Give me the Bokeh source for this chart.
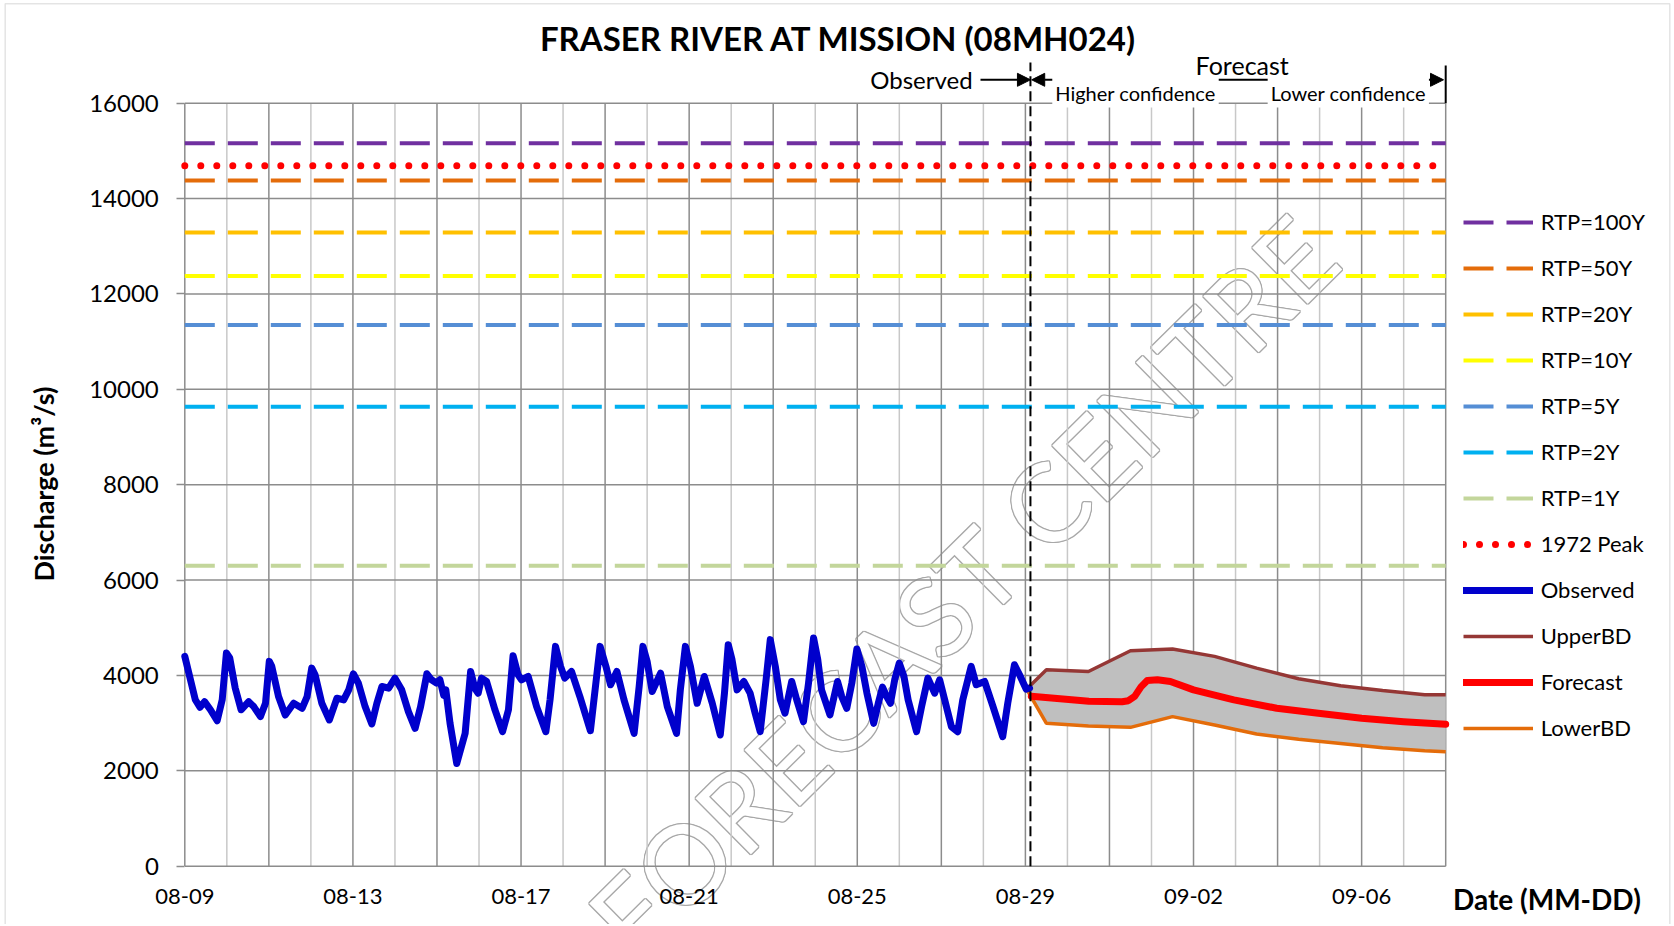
import numpy as np
from bokeh.plotting import figure
from bokeh.models import (Range1d, FixedTicker, LinearAxis, Legend, LegendItem, Label,
                          Arrow, NormalHead, BoxAnnotation, ColumnDataSource)
from bokeh.core.properties import value
from bokeh.embed import file_html
from bokeh.resources import INLINE

# ---------------- data ----------------
threshold_names = ["RTP=100Y", "RTP=50Y", "RTP=20Y", "RTP=10Y", "RTP=5Y", "RTP=2Y", "RTP=1Y"]
threshold_values = [15160, 14380, 13290, 12375, 11350, 9635, 6300]
peak_1972 = 14690

# days after 08-09 00:00
obs_day = [0.00, 0.25, 0.36, 0.47, 0.61, 0.77, 0.89, 0.99, 1.07, 1.20, 1.34, 1.52, 1.64, 1.80,
           1.92, 2.01, 2.07, 2.23, 2.39, 2.59, 2.79, 2.91, 3.02, 3.10, 3.26, 3.44, 3.62, 3.78,
           3.90, 4.01, 4.13, 4.29, 4.45, 4.57, 4.69, 4.85, 5.00, 5.16, 5.32, 5.48, 5.61, 5.76,
           5.87, 5.99, 6.07, 6.16, 6.21, 6.31, 6.47, 6.67, 6.80, 6.90, 6.98, 7.06, 7.18, 7.38,
           7.56, 7.70, 7.81, 7.93, 8.01, 8.17, 8.37, 8.59, 8.69, 8.82, 8.94, 9.04, 9.20, 9.40,
           9.65, 9.78, 9.88, 10.02, 10.13, 10.28, 10.45, 10.69, 10.81, 10.90, 11.00, 11.12,
           11.32, 11.48, 11.70, 11.79, 11.91, 12.03, 12.19, 12.36, 12.55, 12.74, 12.84, 12.93,
           13.02, 13.14, 13.30, 13.45, 13.57, 13.69, 13.83, 13.93, 14.05, 14.17, 14.28, 14.44,
           14.56, 14.72, 14.84, 14.96, 15.06, 15.15, 15.35, 15.53, 15.63, 15.75, 15.87, 15.99,
           16.11, 16.23, 16.39, 16.50, 16.60, 16.70, 16.79, 16.89, 17.00, 17.11, 17.21, 17.41,
           17.53, 17.68, 17.84, 17.96, 18.08, 18.24, 18.39, 18.51, 18.71, 18.83, 19.03, 19.23,
           19.46, 19.58, 19.74, 19.86, 20.02, 20.10]
obs_q = [4400, 3490, 3333, 3450, 3280, 3050, 3490, 4470, 4365, 3733, 3280, 3450, 3347, 3137,
         3417, 4295, 4190, 3558, 3170, 3417, 3312, 3558, 4154, 4014, 3417, 3067, 3523, 3488,
         3698, 4035, 3839, 3347, 2982, 3417, 3768, 3733, 3944, 3698, 3242, 2891, 3347, 4035,
         3909, 3839, 3909, 3580, 3700, 3000, 2154, 2786, 4084, 3733, 3628, 3944, 3874, 3277,
         2821, 3277, 4414, 4014, 3909, 3979, 3347, 2821, 3488, 4610, 4190, 3944, 4084, 3558,
         2840, 3839, 4610, 4190, 3804, 4084, 3488, 2786, 3768, 4610, 4295, 3663,
         4049, 3347, 2786, 3698, 4610, 4190, 3417, 3979, 3417, 2751, 3628, 4646,
         4330, 3698, 3874, 3628, 3207, 2821, 3909, 4751, 4190, 3488, 3207, 3874,
         3488, 3031, 3839, 4786, 4330, 3698, 3172, 3874, 3558, 3312, 3839, 4554,
         4190, 3628, 2996, 3417, 3754, 3558, 3417, 3909, 4260, 3979, 3488, 2821,
         3347, 3944, 3628, 3909, 3488, 2926, 2821, 3488, 4190, 3804, 3874, 3347,
         2716, 3417, 4225, 4014, 3712, 3733]

fc_day = [20.14, 21.51, 22.30, 22.45, 22.60, 22.75, 22.90, 23.14, 23.45, 24.00, 24.96, 25.98,
          26.97, 28.00, 29.00, 30.00]
fc_q = [3565, 3460, 3450, 3470, 3560, 3760, 3895, 3909, 3874, 3698, 3488, 3312,
        3207, 3102, 3031, 2975]

bd_day = [20.05, 20.50, 21.50, 22.50, 23.50, 24.50, 25.50, 26.50, 27.50, 28.50, 29.50, 30.00]
upper_q = [3733, 4119, 4084, 4519, 4554, 4400, 4154, 3930, 3782, 3684, 3593, 3593]
lower_q = [3684, 2996, 2940, 2912, 3137, 2961, 2772, 2660, 2575, 2484, 2421, 2400]

tick_days = [0, 4, 8, 12, 16, 20, 24, 28]
tick_labels = ["08-09", "08-13", "08-17", "08-21", "08-25", "08-29", "09-02", "09-06"]
y_ticks = [0, 2000, 4000, 6000, 8000, 10000, 12000, 14000, 16000]
n_days = 30
forecast_start = 20.12

# ---------------- layout ----------------
W, H = 1672, 924
OX, OY = 184.3, 865.7          # pixel position of (day 0, 0 m3/s)
KX = 42.03                     # px per day
KY = 763.0 / 16000             # px per m3/s


def dx(px):  # canvas x -> data x
    return (px - OX) / KX


def dy(py):  # canvas y -> data y
    return (OY - py) / KY


FONT = "Lato"
DARK = "#8C8C8C"
LIGHT = "#C8C8C8"

p = figure(width=W, height=H, x_range=Range1d(dx(0), dx(W)), y_range=Range1d(dy(H), dy(0)),
           output_backend="svg", toolbar_location=None, min_border=0,
           x_axis_location=None, y_axis_location=None)
p.outline_line_color = None
p.background_fill_color = "white"
p.border_fill_color = "white"
p.grid.visible = False

# axes fixed at the data origin
yax = LinearAxis(fixed_location=0, ticker=FixedTicker(ticks=y_ticks))
yax.major_tick_out = 8
yax.major_tick_in = 0
yax.major_tick_line_color = DARK
yax.major_tick_line_width = 1.5
yax.minor_tick_line_color = None
yax.axis_line_color = None
yax.major_label_standoff = 18
p.add_layout(yax, "left")

xax = LinearAxis(fixed_location=0, ticker=FixedTicker(ticks=tick_days))
xax.major_label_overrides = {d: l for d, l in zip(tick_days, tick_labels)}
xax.major_tick_line_color = None
xax.major_tick_out = 0
xax.major_tick_in = 0
xax.minor_tick_line_color = None
xax.axis_line_color = None
xax.major_label_standoff = 23
p.add_layout(xax, "below")
for ax, fs in ((xax, "22px"), (yax, "24px")):
    ax.major_label_text_font = FONT
    ax.major_label_text_font_size = fs
    ax.major_label_text_color = "black"

# watermark (outlined text, below grid)
wm_src = ColumnDataSource(dict(
    x=[dx(962)] * 9, y=[dy(584)] * 9,
    xo=[-1, 1, 0, 0, -1, -1, 1, 1, 0], yo=[0, 0, -1, 1, -1, 1, -1, 1, 0],
    c=["#A8A8A8"] * 8 + ["white"]))
p.text(x="x", y="y", x_offset="xo", y_offset="yo", text=value("FORECAST CENTRE"),
       text_color="c", angle=0.78, text_font=value(FONT), text_font_size=value("110px"),
       text_align="center", text_baseline="middle", source=wm_src, level="image")

# grid lines limited to the plot area
y_top = y_ticks[-1]
odd_days = list(range(1, n_days, 2))
even_days = list(range(0, n_days + 1, 2))
p.segment(x0=odd_days, y0=[0] * len(odd_days), x1=odd_days, y1=[y_top] * len(odd_days),
          line_color=LIGHT, line_width=1.5, level="underlay")
p.segment(x0=even_days, y0=[0] * len(even_days), x1=even_days, y1=[y_top] * len(even_days),
          line_color=DARK, line_width=1.5, level="underlay")
p.segment(x0=[0] * len(y_ticks), y0=y_ticks, x1=[n_days] * len(y_ticks), y1=y_ticks,
          line_color=DARK, line_width=1.5, level="underlay")

# thresholds
th_colors = ["#7030A0", "#E46C0A", "#FFC000", "#FFFF00", "#558ED5", "#00B0F0", "#C3D69B"]
items = []
th_renderers = []
for name, v, c in zip(threshold_names, threshold_values, th_colors):
    r = p.line([0, n_days], [v, v], line_color=c, line_width=4, line_dash="30 13")
    th_renderers.append((name, r))
r_peak = p.line([0, n_days], [peak_1972, peak_1972], line_color="#FF0000", line_width=7,
                line_dash="0 16", line_cap="round")

# forecast band and lines
p.varea(x=bd_day, y1=lower_q, y2=upper_q, fill_color="#BFBFBF")
r_up = p.line(bd_day, upper_q, line_color="#953735", line_width=3.5)
r_lo = p.line(bd_day, lower_q, line_color="#E46C0A", line_width=3.5)
r_obs = p.line(obs_day, obs_q, line_color="#0000CC", line_width=7, line_join="round",
               line_cap="round")
r_fc = p.line(fc_day, fc_q, line_color="#FF0000", line_width=7, line_join="round",
              line_cap="round")

for name, r in th_renderers:
    items.append(LegendItem(label=name, renderers=[r]))
items += [LegendItem(label="1972 Peak", renderers=[r_peak]),
          LegendItem(label="Observed", renderers=[r_obs]),
          LegendItem(label="UpperBD", renderers=[r_up]),
          LegendItem(label="Forecast", renderers=[r_fc]),
          LegendItem(label="LowerBD", renderers=[r_lo])]

legend = Legend(items=items, location=(1462.7, 183), glyph_width=70, glyph_height=20,
                label_height=20, spacing=19, label_standoff=8, padding=0, margin=0,
                border_line_color=None, background_fill_alpha=0,
                label_text_font=FONT, label_text_font_size="22px", label_text_color="black")
p.add_layout(legend)

# observed / forecast annotations
y_arrow = dy(79.3)
p.segment(x0=[forecast_start], y0=[0], x1=[forecast_start], y1=[dy(62)],
          line_color="black", line_width=2, line_dash="10 5", level="annotation")
p.add_layout(Arrow(x_start=dx(980), y_start=y_arrow, x_end=forecast_start, y_end=y_arrow,
                   end=NormalHead(size=13, fill_color="black", line_color="black"),
                   line_color="black", line_width=2))
p.add_layout(Arrow(x_start=forecast_start + 0.03, y_start=y_arrow, x_end=dx(1443), y_end=y_arrow,
                   start=NormalHead(size=13, fill_color="black", line_color="black"),
                   end=NormalHead(size=13, fill_color="black", line_color="black"),
                   line_color="black", line_width=2))
p.segment(x0=[n_days], y0=[y_top], x1=[n_days], y1=[dy(65)], line_color="black",
          line_width=2, level="annotation")

p.add_layout(Label(x=dx(921), y=dy(79), text="Observed", text_align="center",
                   text_baseline="middle", text_font=FONT, text_font_size="24px",
                   text_color="black"))
p.add_layout(Label(x=dx(1241.7), y=dy(64), text="Forecast", text_align="center",
                   text_baseline="middle", text_font=FONT, text_font_size="25px",
                   text_color="black"))
p.add_layout(Label(x=dx(1135), y=dy(92), text="Higher confidence", text_align="center",
                   text_baseline="middle", text_font=FONT, text_font_size="20px",
                   text_color="black", background_fill_color="white", padding=3))
p.add_layout(Label(x=dx(1347.8), y=dy(92), text="Lower confidence", text_align="center",
                   text_baseline="middle", text_font=FONT, text_font_size="20px",
                   text_color="black", background_fill_color="white", padding=3))

# title and axis labels
p.add_layout(Label(x=dx(838), y=dy(37), text="FRASER RIVER AT MISSION (08MH024)",
                   text_align="center", text_baseline="middle", text_font=FONT,
                   text_font_size="33px", text_font_style="bold", text_color="black"))
p.add_layout(Label(x=dx(42.7), y=dy(483.6), text="Discharge (m\u00b3/s)", angle=np.pi / 2,
                   text_align="center", text_baseline="middle", text_font=FONT,
                   text_font_size="27px", text_font_style="bold", text_color="black"))
p.add_layout(Label(x=dx(1546.4), y=dy(898.3), text="Date (MM-DD)", text_align="center",
                   text_baseline="middle", text_font=FONT, text_font_size="28px",
                   text_font_style="bold", text_color="black"))

# chart border
p.add_layout(BoxAnnotation(left=dx(4.7), right=dx(1669.3), top=dy(3.3), bottom=dy(1000),
                           fill_alpha=0, line_color="#A6A6A6", line_width=1.5))

open("out.html", "w").write(file_html(p, INLINE))
